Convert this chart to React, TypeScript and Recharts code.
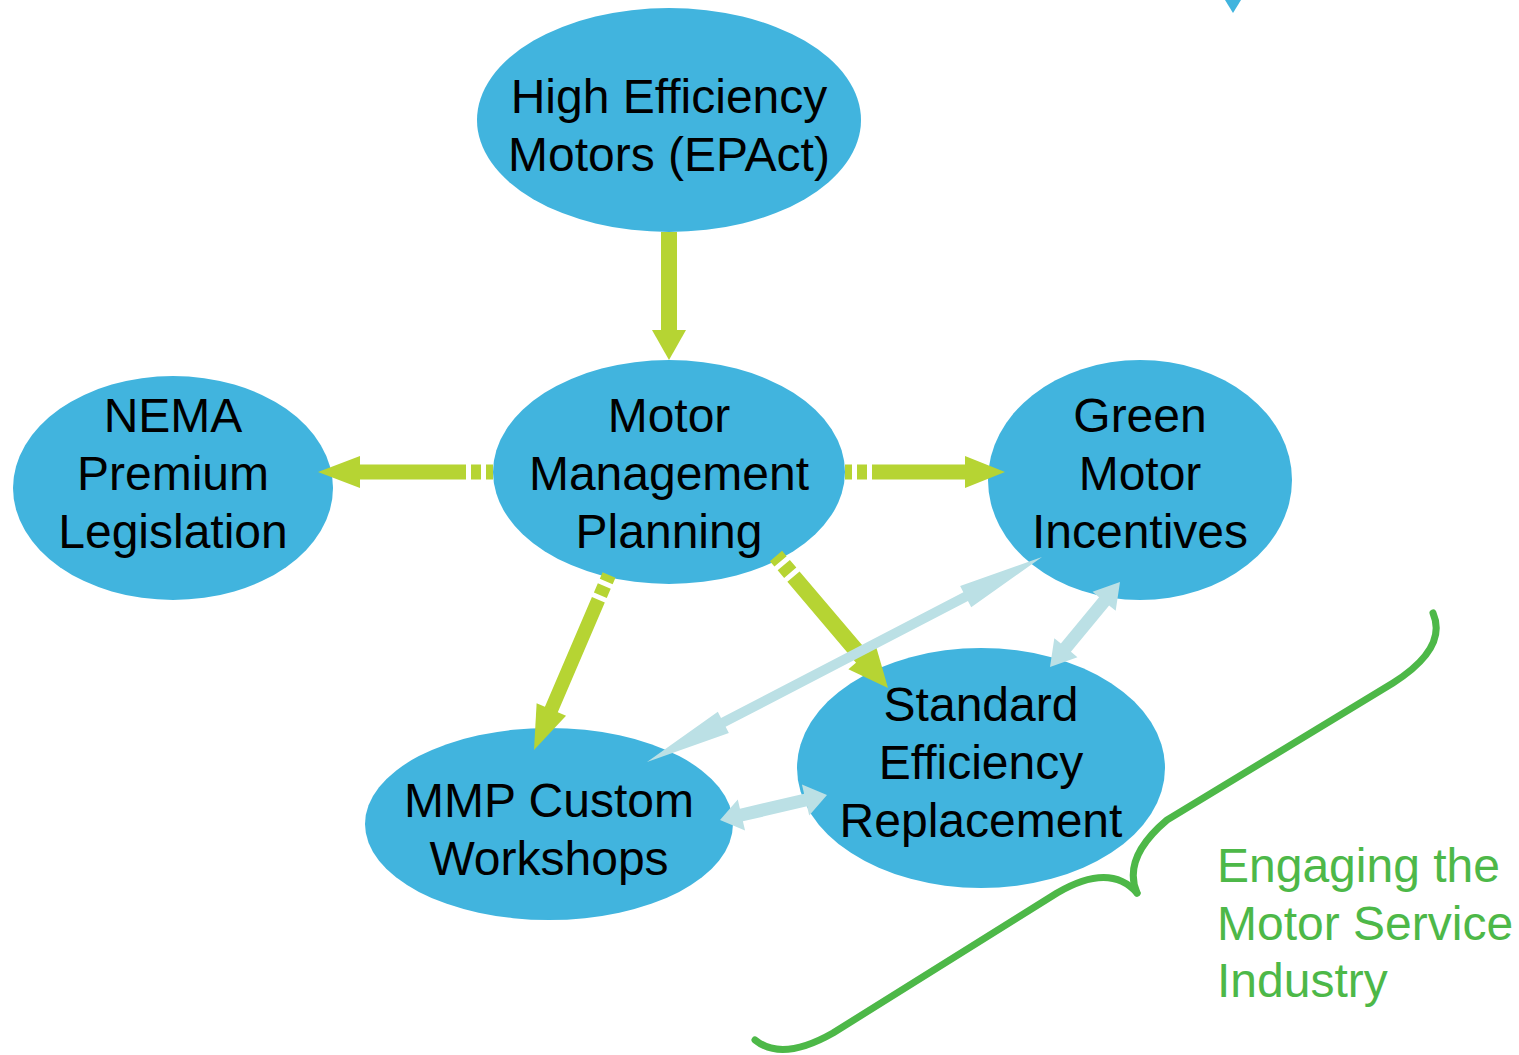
import React from 'react';
import { ScatterChart, Scatter, XAxis, YAxis } from 'recharts';

const W = 1519;
const H = 1055;

// Nodes of the diagram (chart coordinates = page pixels)
const nodeLabels: string[][] = [
  ['High Efficiency', 'Motors (EPAct)'],
  ['NEMA', 'Premium', 'Legislation'],
  ['Motor', 'Management', 'Planning'],
  ['Green', 'Motor', 'Incentives'],
  ['Standard', 'Efficiency', 'Replacement'],
  ['MMP Custom', 'Workshops'],
];
const nodeX = [669, 173, 669, 1140, 981, 549];
const nodeY = [120, 488, 472, 480, 768, 824];
const labelY = [125, 473, 473, 473, 762, 829];

// Green flow arrows (from -> to)
const flowFrom = [[669, 232], [493, 472], [845, 472], [776, 556], [609, 575]];
const flowTo = [[669, 360], [318, 472], [1005, 472], [888, 688], [534, 750]];
const flowDashed = [false, true, true, true, true];

// Light blue two-way links
const linkA = [[1042, 557], [1120, 582], [720, 820]];
const linkB = [[647, 762], [1050, 667], [827, 795]];

// Brace outline points (anchor, control, anchor, anchor, control, anchor)
const braceLeft = [[755, 1040], [782, 1062], [833, 1033], [1057, 893], [1110, 862], [1137, 893]];
const braceRight = [[1137, 893], [1122, 858], [1167, 820], [1393, 683], [1448, 648], [1433, 613]];

const sideText = ['Engaging the', 'Motor Service', 'Industry'];
const sideTextPos = [[1217, 865]];

const topMark = [[1233, 0]];

// styles
const nodeRx = [192, 160, 176, 152, 184, 184];
const nodeRy = [112, 112, 112, 120, 120, 96];
const flowStyle = [
  { w: 16, hw: 34, hl: 30 },
  { w: 15, hw: 32, hl: 42 },
  { w: 15, hw: 32, hl: 40 },
  { w: 16, hw: 36, hl: 40 },
  { w: 14, hw: 32, hl: 44 },
];
const linkStyle = [
  { w: 10, hw: 24, hl: 86 },
  { w: 13, hw: 30, hl: 25 },
  { w: 13, hw: 32, hl: 22 },
];
const BLUE = '#41B4DE';
const LIME = '#B6D433';
const PALE = '#BBE0E5';
const BRACE = '#4DB848';
const FONT = '"Liberation Sans", Arial, Helvetica, sans-serif';

const nodeData = nodeX.map((x, i) => ({ x, y: nodeY[i], i }));
const labelData = nodeX.map((x, i) => ({ x, y: labelY[i], i }));

const Empty = () => <g />;

function FlowArrow(props: any, idx: number) {
  const pts = props.points;
  if (!pts || pts.length < 2) return <g />;
  const { w, hw, hl } = flowStyle[idx];
  const [a, b] = pts;
  const dx = b.x - a.x, dy = b.y - a.y;
  const L = Math.hypot(dx, dy);
  const ux = dx / L, uy = dy / L, nx = -uy, ny = ux;
  const bx = b.x - ux * hl, by = b.y - uy * hl;
  const head = [
    [b.x, b.y],
    [bx + nx * hw / 2, by + ny * hw / 2],
    [bx - nx * hw / 2, by - ny * hw / 2],
  ].map((p) => p.join(',')).join(' ');
  return (
    <g>
      <line
        x1={a.x}
        y1={a.y}
        x2={bx + ux * 1}
        y2={by + uy * 1}
        stroke={LIME}
        strokeWidth={w}
        strokeDasharray={flowDashed[idx] ? '7 5 10 5 3000' : undefined}
      />
      <polygon points={head} fill={LIME} />
    </g>
  );
}

function LinkArrow(props: any, idx: number) {
  const pts = props.points;
  if (!pts || pts.length < 2) return <g />;
  const { w, hw, hl } = linkStyle[idx];
  const [a, b] = pts;
  const dx = b.x - a.x, dy = b.y - a.y;
  const L = Math.hypot(dx, dy);
  const ux = dx / L, uy = dy / L, nx = -uy, ny = ux;
  const ax = a.x + ux * hl, ay = a.y + uy * hl;
  const bx = b.x - ux * hl, by = b.y - uy * hl;
  const poly = [
    [a.x, a.y],
    [ax + nx * hw / 2, ay + ny * hw / 2],
    [ax + nx * w / 2, ay + ny * w / 2],
    [bx + nx * w / 2, by + ny * w / 2],
    [bx + nx * hw / 2, by + ny * hw / 2],
    [b.x, b.y],
    [bx - nx * hw / 2, by - ny * hw / 2],
    [bx - nx * w / 2, by - ny * w / 2],
    [ax - nx * w / 2, ay - ny * w / 2],
    [ax - nx * hw / 2, ay - ny * hw / 2],
  ].map((p) => p.join(',')).join(' ');
  return <polygon points={poly} fill={PALE} />;
}

function BraceLine(props: any) {
  const p = props.points;
  if (!p || p.length < 6) return <g />;
  let d = `M${p[0].x},${p[0].y}`;
  d += ` Q${p[1].x},${p[1].y} ${p[2].x},${p[2].y}`;
  d += ` L${p[3].x},${p[3].y}`;
  d += ` Q${p[4].x},${p[4].y} ${p[5].x},${p[5].y}`;
  return <path d={d} fill="none" stroke={BRACE} strokeWidth={7} strokeLinecap="round" strokeLinejoin="round" />;
}

const NodeShape = (props: any) => {
  const { cx, cy, payload } = props;
  const i = payload.i;
  return <ellipse cx={cx} cy={cy} rx={nodeRx[i]} ry={nodeRy[i]} fill={BLUE} />;
};

const LabelShape = (props: any) => {
  const { cx, cy, payload } = props;
  const lines = nodeLabels[payload.i];
  const lh = 58;
  return (
    <g>
      {lines.map((t, k) => (
        <text
          key={k}
          x={cx}
          y={cy + (k - (lines.length - 1) / 2) * lh + 17}
          textAnchor="middle"
          fontFamily={FONT}
          fontSize={48}
          fill="#000"
        >
          {t}
        </text>
      ))}
    </g>
  );
};

const SideTextShape = (props: any) => {
  const { cx, cy } = props;
  return (
    <g>
      {sideText.map((t, k) => (
        <text key={k} x={cx} y={cy + k * 57.5 + 17} textAnchor="start" fontFamily={FONT} fontSize={48} fill={BRACE}>
          {t}
        </text>
      ))}
    </g>
  );
};

const TopMarkShape = (props: any) => {
  const { cx, cy } = props;
  return <polygon points={`${cx - 8},${cy} ${cx + 8},${cy} ${cx},${cy + 13}`} fill={BLUE} />;
};

export default function App() {
  return (
    <div style={{ position: 'absolute', left: 0, top: 0, width: W, height: H, background: '#fff' }}>
      <ScatterChart width={W} height={H} margin={{ top: 0, right: 0, bottom: 0, left: 0 }}>
        <XAxis type="number" dataKey="x" domain={[0, W]} hide allowDataOverflow />
        <YAxis type="number" dataKey="y" domain={[0, H]} reversed hide allowDataOverflow />
        <Scatter data={nodeData} shape={NodeShape} isAnimationActive={false} />
        {flowFrom.map((f, i) => (
          <Scatter
            key={'f' + i}
            data={[{ x: f[0], y: f[1] }, { x: flowTo[i][0], y: flowTo[i][1] }]}
            shape={Empty}
            line={(p: any) => FlowArrow(p, i)}
            isAnimationActive={false}
          />
        ))}
        {linkA.map((a, i) => (
          <Scatter
            key={'l' + i}
            data={[{ x: a[0], y: a[1] }, { x: linkB[i][0], y: linkB[i][1] }]}
            shape={Empty}
            line={(p: any) => LinkArrow(p, i)}
            isAnimationActive={false}
          />
        ))}
        <Scatter
          data={braceLeft.map((p) => ({ x: p[0], y: p[1] }))}
          shape={Empty}
          line={BraceLine}
          isAnimationActive={false}
        />
        <Scatter
          data={braceRight.map((p) => ({ x: p[0], y: p[1] }))}
          shape={Empty}
          line={BraceLine}
          isAnimationActive={false}
        />
        <Scatter data={labelData} shape={LabelShape} isAnimationActive={false} />
        <Scatter data={sideTextPos.map((p) => ({ x: p[0], y: p[1] }))} shape={SideTextShape} isAnimationActive={false} />
        <Scatter data={topMark.map((p) => ({ x: p[0], y: p[1] }))} shape={TopMarkShape} isAnimationActive={false} />
      </ScatterChart>
    </div>
  );
}
